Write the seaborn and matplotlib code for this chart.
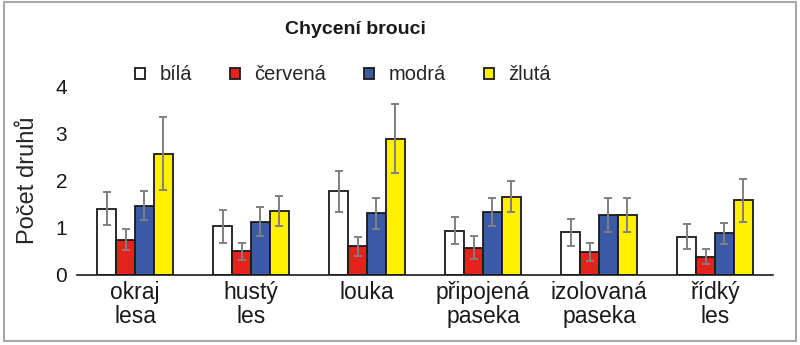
import matplotlib
matplotlib.use("Agg")
import matplotlib.pyplot as plt
from matplotlib.patches import Rectangle
import seaborn as sns
import pandas as pd

# Habitat categories (two-line tick labels)
categories = ["okraj\nlesa", "hustý\nles", "louka", "připojená\npaseka",
              "izolovaná\npaseka", "řídký\nles"]
trap_colors = ["bílá", "červená", "modrá", "žlutá"]

# Mean number of species per trap colour
bila = [1.40, 1.03, 1.77, 0.94, 0.90, 0.81]
cervena = [0.745, 0.50, 0.61, 0.58, 0.48, 0.39]
modra = [1.47, 1.13, 1.31, 1.34, 1.28, 0.88]
zluta = [2.57, 1.35, 2.88, 1.66, 1.28, 1.58]

# Error bar half-widths
bila_err = [0.35, 0.35, 0.44, 0.28, 0.28, 0.27]
cervena_err = [0.22, 0.18, 0.20, 0.24, 0.19, 0.16]
modra_err = [0.30, 0.30, 0.33, 0.30, 0.36, 0.23]
zluta_err = [0.78, 0.32, 0.73, 0.32, 0.36, 0.46]

y_ticks = [0, 1, 2, 3, 4]

means = [bila, cervena, modra, zluta]
errs = [bila_err, cervena_err, modra_err, zluta_err]

rows = []
for colour, vals, ers in zip(trap_colors, means, errs):
    for cat, v, e in zip(categories, vals, ers):
        rows.append({"stanoviste": cat, "barva": colour, "druhy": v, "chyba": e})
df = pd.DataFrame(rows)

palette = {"bílá": "#ffffff", "červená": "#e4231f",
           "modrá": "#3a5aa6", "žlutá": "#fff100"}

sns.set_theme(style="white")
plt.rcParams["font.family"] = ["Liberation Sans", "DejaVu Sans"]

fig = plt.figure(figsize=(8.0, 3.45), dpi=100)
ax = fig.add_axes([77 / 800, 70 / 345, 696 / 800, 189 / 345])

sns.barplot(data=df, x="stanoviste", y="druhy", hue="barva",
            order=categories, hue_order=trap_colors, palette=palette,
            saturation=1, width=0.65, edgecolor="#1a1a1a", linewidth=1.3,
            errorbar=None, ax=ax)

# Error bars drawn at each bar's centre
for container, colour in zip(ax.containers, trap_colors):
    sub = df[df["barva"] == colour].set_index("stanoviste").loc[categories]
    xs = [p.get_x() + p.get_width() / 2 for p in container.patches]
    ax.errorbar(xs, sub["druhy"].values, yerr=sub["chyba"].values,
                fmt="none", ecolor="#808080", elinewidth=1.4,
                capsize=3, capthick=1.4, zorder=5)

ax.set_xlim(-0.5, len(categories) - 0.5)
ax.set_ylim(0, 4)
ax.set_yticks(y_ticks)
ax.set_yticklabels([str(t) for t in y_ticks])
ax.set_xlabel("")
ax.set_ylabel("Počet druhů", fontsize=17, labelpad=12)
ax.tick_params(axis="both", length=0, colors="#1a1a1a")
ax.tick_params(axis="y", pad=7, labelsize=15)
ax.tick_params(axis="x", pad=4, labelsize=16.5)
for lbl in ax.get_xticklabels():
    lbl.set_linespacing(1.1)

for side in ["left", "right", "top"]:
    ax.spines[side].set_visible(False)
ax.spines["bottom"].set_color("#1a1a1a")
ax.spines["bottom"].set_linewidth(1.2)

sns.move_legend(ax, "center", bbox_to_anchor=(343 / 800, 1 - 75 / 345),
                bbox_transform=fig.transFigure, ncol=4, frameon=False,
                title=None, fontsize=14.5, handlelength=0.5, handleheight=0.5,
                handletextpad=0.7, columnspacing=1.9)

fig.text(355 / 800, 1 - 30 / 345, "Chycení brouci", ha="center", va="center",
         fontsize=14, fontweight="bold", color="#1a1a1a")

# Light grey frame around the whole figure
fig.patches.append(Rectangle((3.5 / 800, 4 / 345), 792 / 800, 339 / 345,
                             transform=fig.transFigure, fill=False,
                             edgecolor="#a8a8a8", linewidth=1.5))

fig.savefig("out.png", dpi=100)
